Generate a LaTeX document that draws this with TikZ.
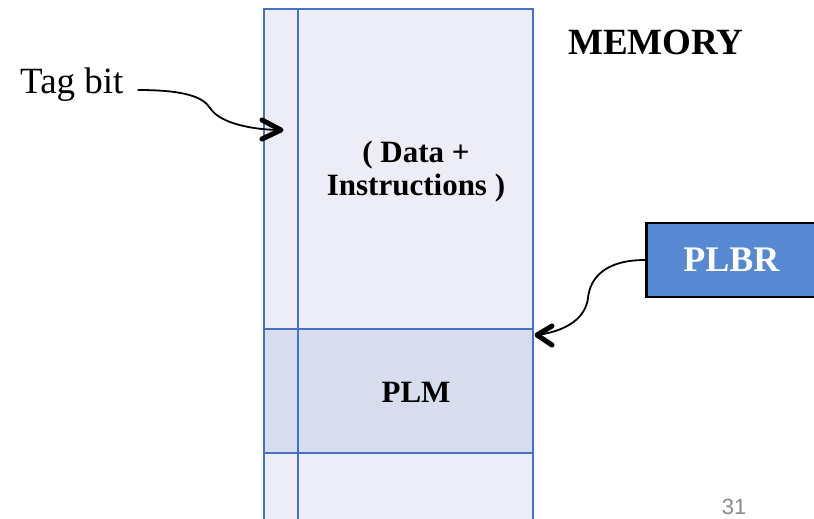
\documentclass[tikz,border=0pt]{standalone}
\usepackage{fontspec}
\setmainfont{Liberation Serif}
\newfontfamily\numfont{Liberation Sans}
\usetikzlibrary{calc}
\definecolor{memline}{HTML}{4472C4}
\definecolor{memfill}{HTML}{ECEDF7}
\definecolor{plmfill}{HTML}{D8DDEE}
\definecolor{regfill}{HTML}{5689D2}
\definecolor{pagenum}{HTML}{8A8A8A}
\tikzset{
  memedge/.style={draw=memline, line width=2.7pt},
  pointer/.style={draw=black, line width=1.8pt},
  chevron/.style={draw=black, line width=5pt, line cap=round, line join=round},
  bigbold/.style={font=\bfseries\fontsize{31}{33}\selectfont, inner sep=0pt},
}
\begin{document}
\begin{tikzpicture}[x=1pt, y=-1pt]
\useasboundingbox (0,0) rectangle (814,519);
\clip (0,0) rectangle (814,519);

% memory column with tag-bit strip
\fill[memfill] (264,9) rectangle (533,540);
\fill[plmfill] (264,329) rectangle (533,453);
\draw[memedge] (264,540) -- (264,9) -- (533,9) -- (533,540);
\draw[memedge] (298,9) -- (298,540);
\draw[memedge] (264,329) -- (533,329);
\draw[memedge] (264,453) -- (533,453);

% labels inside memory
\node[bigbold, align=center] (data) at (416,172) {( Data +\\Instructions )};
\node[bigbold] (plm) at (416,392) {PLM};

% headings and outside labels
\node[font=\bfseries\fontsize{37}{40}\selectfont, anchor=base west, inner sep=0pt]
  (memory) at (568,55) {MEMORY};
\node[font=\fontsize{37}{40}\selectfont, anchor=base west, inner sep=0pt]
  (tag) at (20,93) {Tag bit};
\node[draw=black, line width=2.6pt, fill=regfill, text=white,
  font=\bfseries\fontsize{36}{40}\selectfont,
  minimum width=178pt, minimum height=74pt, anchor=west, inner sep=0pt]
  (plbr) at (645,260) {\hspace*{-8pt}PLBR};
\node[font=\numfont\fontsize{22}{24}\selectfont, text=pagenum, inner sep=0pt]
  (page) at (734,507) {31};

% arrow targets on the memory column
\coordinate (tagtip) at (281,130);
\coordinate (plmtip) at (537,335);

% connectors
\draw[pointer] ($(tag.base east)+(14,-3)$)
  .. controls (185,90) and (203,97) .. (210,108)
  .. controls (220,124) and (255,130) .. (tagtip);
\draw[pointer] (plbr.west)
  .. controls (605,260) and (590,278) .. (588,298)
  .. controls (585,322) and (560,332) .. (plmtip);

% heavy open arrowheads
\draw[chevron] ($(tagtip)+(-19,-10)$) -- (tagtip) -- ($(tagtip)+(-19,9)$);
\draw[chevron] ($(plmtip)+(15,-9)$) -- (plmtip) -- ($(plmtip)+(15,10)$);
\end{tikzpicture}
\end{document}
